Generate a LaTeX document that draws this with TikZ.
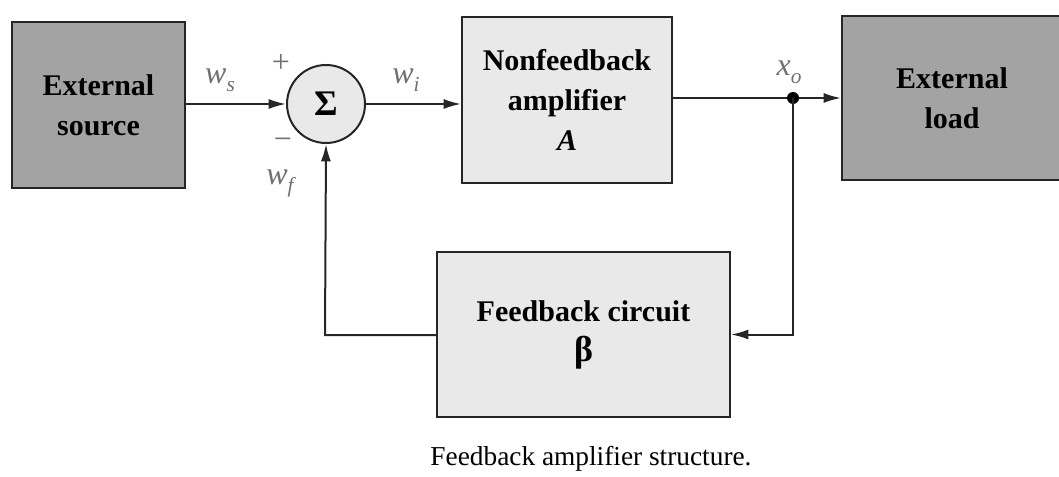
\documentclass[tikz,border=0pt]{standalone}
\usepackage{fontspec}
\setmainfont{Liberation Serif}
\usetikzlibrary{arrows.meta,calc}
\definecolor{darkbox}{HTML}{A3A3A3}
\definecolor{lightbox}{HTML}{E9E9E9}
\definecolor{labelgray}{HTML}{707070}
\newcommand{\sig}[2]{{\itshape #1}\raisebox{-6pt}{\fontsize{16}{16}\selectfont\itshape #2}}
\begin{document}
\begin{tikzpicture}[x=0.75pt,y=-0.75pt,
  blk/.style={draw=black!85,line width=1.5pt,rectangle,align=center,
    font=\fontsize{22.5}{30}\selectfont\bfseries,inner sep=0pt},
  darkblk/.style={blk,fill=darkbox},
  lightblk/.style={blk,fill=lightbox},
  conn/.style={line width=1.5pt,draw=black!85},
  arr/.style={conn,-{Latex[length=13pt,width=7.5pt]}},
  lbl/.style={text=labelgray,font=\fontsize{24}{24}\selectfont,inner sep=0pt}]
\useasboundingbox (0,0) rectangle (1059,477);
\node[darkblk,minimum width=129.75pt,minimum height=124.5pt] (src) at (98.5,105) {External\\source};
\node[draw=black!85,line width=1.5pt,circle,fill=lightbox,minimum size=58.5pt,inner sep=0pt,
  font=\fontsize{27}{27}\selectfont\bfseries] (sum) at (326,104) {Σ};
\node[lightblk,minimum width=157.5pt,minimum height=124.5pt] (amp) at (567,100) {Nonfeedback\\amplifier\\\itshape A};
\node[darkblk,minimum width=165pt,minimum height=123pt] (load) at (952,98) {External\\load};
\node[lightblk,minimum width=219.75pt,minimum height=123.75pt] (fb) at (583.5,334.5) {Feedback circuit\\{\fontsize{27}{30}\selectfont β}};
\coordinate (dot) at (793,98);
\coordinate (corner) at (325,335);
\draw[arr] (src.east |- sum.west) -- (sum.west);
\draw[arr] (sum.east) -- (amp.west |- sum.east);
\draw[conn] (amp.east |- dot) -- (dot);
\draw[arr] (dot) -- (load.west |- dot);
\fill[black] (dot) circle (6);
\draw[arr] (dot) |- (fb.east);
\draw[arr] (fb.west |- corner) -- (corner) -- (sum.south);
\node[lbl] (ws) at (220,80) {\sig{w}{s}};
\node[lbl] (wi) at (406,80) {\sig{w}{i}};
\node[lbl] (wf) at (280,183) {\sig{w}{f}};
\node[lbl] (xo) at (789,72) {\sig{x}{o}};
\node[lbl] (plus) at (281,63) {+};
\node[lbl] (minus) at (283,144) {−};
\node[font=\fontsize{20.5}{20.5}\selectfont,inner sep=0pt] (cap) at (591,459) {Feedback amplifier structure.};
\end{tikzpicture}
\end{document}
